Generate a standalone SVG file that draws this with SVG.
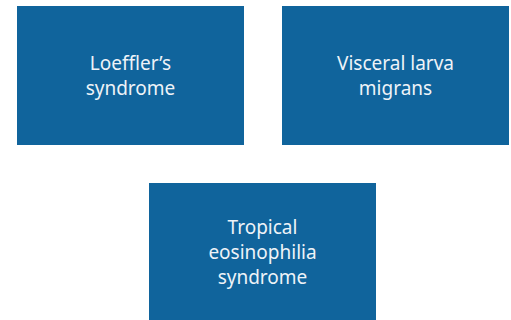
<svg xmlns="http://www.w3.org/2000/svg" width="511" height="320" viewBox="0 0 511 320">
<style>
.box{fill:#10649C}
.lbl{font-family:"Noto Sans","Open Sans","Liberation Sans",sans-serif;font-size:19px;fill:#EEF3F8;text-anchor:middle}
</style>
<rect width="511" height="320" fill="#FFFFFF"/>
<g id="node-loeffler">
<rect class="box" x="17" y="6" width="227" height="139"/>
<text class="lbl" x="130.5" y="70">Loeffler’s</text>
<text class="lbl" x="130.5" y="95">syndrome</text>
</g>
<g id="node-visceral">
<rect class="box" x="282" y="6" width="227" height="139"/>
<text class="lbl" x="395.5" y="70">Visceral larva</text>
<text class="lbl" x="395.5" y="95">migrans</text>
</g>
<g id="node-tropical">
<rect class="box" x="149" y="183" width="227" height="137"/>
<text class="lbl" x="262.5" y="234">Tropical</text>
<text class="lbl" x="262.5" y="259">eosinophilia</text>
<text class="lbl" x="262.5" y="284">syndrome</text>
</g>
<g id="connectors"></g>
</svg>
